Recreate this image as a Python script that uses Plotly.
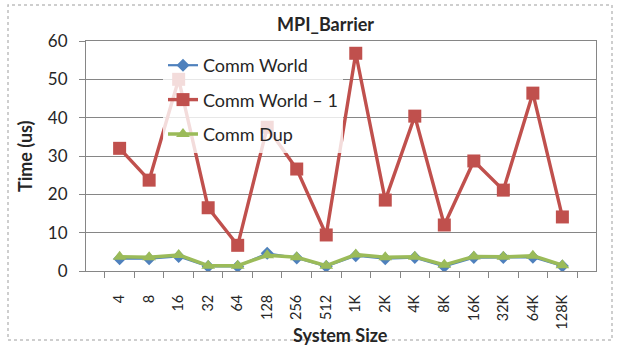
import plotly.graph_objects as go

# Barrier latency per system size for three communicators
sizes = ["4", "8", "16", "32", "64", "128", "256", "512", "1K", "2K", "4K",
         "8K", "16K", "32K", "64K", "128K"]
comm_world = [3.2, 3.2, 3.8, 1.2, 1.2, 4.6, 3.4, 1.2, 4.0, 3.2, 3.5, 1.2,
              3.5, 3.5, 3.6, 1.3]
comm_world_minus1 = [32.0, 23.7, 50.0, 16.5, 6.7, 37.5, 26.6, 9.4, 56.8, 18.5,
                     40.4, 12.0, 28.7, 21.1, 46.4, 14.1]
comm_dup = [3.7, 3.6, 4.2, 1.4, 1.4, 4.1, 3.6, 1.4, 4.3, 3.6, 3.7, 1.6, 3.8,
            3.7, 4.0, 1.5]

BLUE = "#4F81BD"
RED = "#C0504D"
GREEN = "#9BBB59"
FONT = "Lato"
TXT = "#262626"

fig = go.Figure()
fig.add_trace(go.Scatter(
    x=sizes, y=comm_world, name="Comm World", mode="lines+markers",
    legendgroup="a",
    line=dict(color=BLUE, width=2.2),
    marker=dict(symbol="diamond", size=10, color=BLUE)))
fig.add_trace(go.Scatter(
    x=sizes, y=comm_world_minus1, name="Comm World \u2013 1", mode="lines+markers",
    legendgroup="b",
    line=dict(color=RED, width=3.4),
    marker=dict(symbol="square", size=13, color=RED)))
fig.add_trace(go.Scatter(
    x=sizes, y=comm_dup, name="Comm Dup", mode="lines+markers",
    legendgroup="c",
    line=dict(color=GREEN, width=3.5),
    marker=dict(symbol="triangle-up", size=12, color=GREEN)))

W, H = 621, 347
L, R, T, B = 86, 25, 41, 76
pw = W - L - R
ph = H - T - B


def px_x(px):
    return (px - L) / pw


def px_y(py):
    return (H - B - py) / ph


fig.update_layout(
    width=W, height=H,
    margin=dict(l=L, r=R, t=T, b=B),
    paper_bgcolor="white", plot_bgcolor="white",
    font=dict(family=FONT, size=16, color=TXT),
    showlegend=True,
    legend=dict(
        x=px_x(163), y=px_y(47), xanchor="left", yanchor="top",
        bgcolor="rgba(255,255,255,0.8)",
        font=dict(family=FONT, size=18, color=TXT),
        traceorder="grouped", tracegroupgap=8,
        itemwidth=30,
    ),
    xaxis=dict(
        type="category",
        showgrid=False,
        showline=True, linecolor="#868686", linewidth=1, mirror=True,
        ticks="outside", ticklen=6, tickcolor="#868686",
        tickson="boundaries",
        tickangle=-90,
        ticklabelstandoff=17,
        tickfont=dict(family=FONT, size=14.5, color=TXT),
        zeroline=False,
    ),
    yaxis=dict(
        range=[0, 60], dtick=10,
        showgrid=True, gridcolor="#868686", gridwidth=1,
        showline=True, linecolor="#868686", linewidth=1, mirror=True,
        ticks="outside", ticklen=6, tickcolor="#868686",
        ticklabelstandoff=8,
        tickfont=dict(family=FONT, size=17, color=TXT),
        zeroline=False,
    ),
)

# Titles
title_font = dict(family=FONT, size=18, color=TXT)
fig.add_annotation(text="<b>MPI_Barrier</b>", xref="paper", yref="paper",
                   x=px_x(325), y=px_y(24), xanchor="center", yanchor="middle",
                   showarrow=False, font=title_font)
fig.add_annotation(text="<b>Time (us)</b>", xref="paper", yref="paper",
                   x=px_x(25), y=px_y(156), xanchor="center", yanchor="middle",
                   showarrow=False, textangle=-90, font=title_font)
fig.add_annotation(text="<b>System Size</b>", xref="paper", yref="paper",
                   x=px_x(340), y=px_y(335), xanchor="center", yanchor="middle",
                   showarrow=False, font=title_font)

# Chart-area border
fig.add_shape(type="rect", xref="paper", yref="paper",
              x0=px_x(8), x1=px_x(612), y0=px_y(340), y1=px_y(5),
              line=dict(color="#BFBFBF", width=1.5, dash="dot"),
              layer="below")

fig.write_html("out.html")
